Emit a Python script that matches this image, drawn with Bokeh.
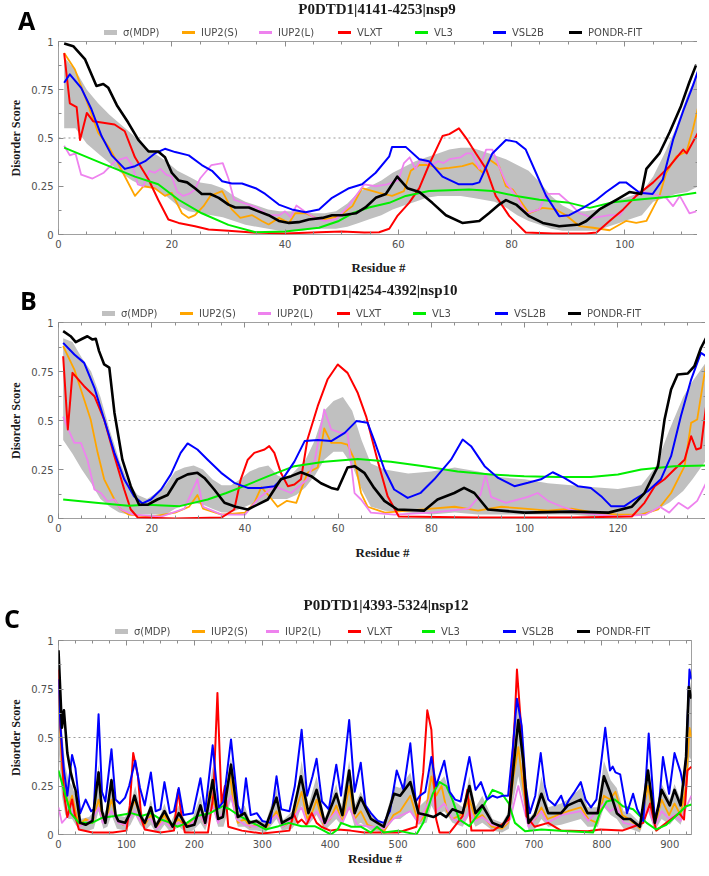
from bokeh.plotting import figure
from bokeh.layouts import column
from bokeh.models import (Range1d, LinearAxis, SingleIntervalTicker, FixedTicker, Div,
                          NumeralTickFormatter, Span, CustomLabelingPolicy)
from bokeh.embed import file_html
from bokeh.resources import INLINE

SERIES_NAMES = ["σ(MDP)", "IUP2(S)", "IUP2(L)", "VLXT", "VL3", "VSL2B", "PONDR-FIT"]
SERIES_COLORS = ["#c0c0c0", "#ffa500", "#ee82ee", "#ff0000", "#00ee00", "#0000ff", "#000000"]
Y_TICKS = [0, 0.25, 0.5, 0.75, 1]
Y_MINOR = [0.125, 0.375, 0.625, 0.875]

# ---------------- Panel A : nsp9 ----------------
A_TITLE = "P0DTD1|4141-4253|nsp9"
A_XMAX = 113
A_XSTEP = 20
A_BAND = [(1,0.55,0.92),(3,0.55,0.85),(5,0.47,0.75),(7,0.42,0.68),(9,0.37,0.62),(11,0.32,0.57),
          (13,0.28,0.52),(15,0.25,0.46),(17,0.24,0.42),(19,0.20,0.38),(21,0.15,0.33),(23,0.12,0.30),
          (25,0.11,0.27),(27,0.10,0.26),(29,0.09,0.24),(31,0.07,0.20),(33,0.05,0.17),(35,0.04,0.15),
          (37,0.03,0.13),(39,0.02,0.12),(41,0.02,0.12),(43,0.02,0.12),(45,0.03,0.11),(47,0.03,0.11),
          (49,0.03,0.12),(51,0.04,0.16),(53,0.06,0.22),(55,0.08,0.25),(57,0.10,0.28),(59,0.13,0.32),
          (61,0.15,0.35),(63,0.17,0.38),(65,0.19,0.40),(67,0.20,0.42),(69,0.20,0.44),(71,0.20,0.45),
          (73,0.19,0.45),(75,0.18,0.43),(77,0.17,0.41),(79,0.14,0.39),(81,0.10,0.36),(83,0.07,0.33),
          (85,0.05,0.27),(87,0.03,0.20),(89,0.02,0.15),(91,0.02,0.12),(93,0.02,0.12),(95,0.02,0.13),
          (97,0.04,0.15),(99,0.06,0.18),(101,0.08,0.20),(103,0.10,0.22),(105,0.17,0.30),(107,0.19,0.42),
          (109,0.21,0.55),(111,0.22,0.72),(113,0.25,0.85)]
A_IUP2S = [(1,0.94),(2.9,0.855),(5.3,0.665),(7,0.527),(8.8,0.457),(10.3,0.38),(12,0.285),(13.5,0.20),
           (15,0.25),(17,0.24),(18.8,0.20),(20,0.216),(21.8,0.11),(23,0.086),(24.1,0.10),(25.6,0.147),
           (26.8,0.20),(28.9,0.225),(30.6,0.13),(32.1,0.086),(34.2,0.10),(35.9,0.07),(37.1,0.052),
           (38.9,0.086),(40.7,0.06),(41.8,0.11),(43.6,0.11),(45.4,0.086),(47.1,0.078),(49.5,0.095),
           (51.9,0.147),(53.6,0.24),(56.6,0.216),(58.9,0.20),(61,0.225),(62.2,0.33),(63.7,0.36),
           (65.4,0.36),(67.2,0.34),(69,0.345),(71.3,0.354),(73.1,0.37),(74.9,0.32),(76,0.39),
           (77.8,0.354),(79,0.25),(80.2,0.233),(82,0.155),(83.1,0.11),(85.5,0.138),(87.8,0.13),
           (89.6,0.10),(92,0.043),(94.4,0.035),(97.3,0.022),(100.2,0.07),(102,0.06),(103.8,0.07),
           (106.1,0.20),(107.3,0.32),(109.1,0.405),(110.9,0.43),(112,0.544),(112.9,0.656)]
A_IUP2L = [(1,0.46),(2,0.41),(3,0.42),(4,0.31),(6,0.29),(8,0.32),(10,0.38),(12,0.40),(13,0.36),
           (14,0.26),(15,0.25),(16,0.33),(17,0.32),(18,0.34),(19,0.31),(20,0.30),(21,0.22),(22,0.20),
           (23,0.21),(24,0.23),(25,0.29),(27,0.36),(29,0.37),(30,0.29),(31,0.18),(33,0.16),(35,0.14),
           (37,0.10),(39,0.10),(40,0.12),(41,0.09),(42,0.15),(43,0.13),(45,0.09),(47,0.07),(49,0.08),
           (51,0.14),(53,0.22),(54,0.26),(56,0.25),(58,0.26),(60,0.28),(61,0.37),(62,0.40),(63,0.34),
           (64,0.39),(65,0.37),(66,0.36),(67,0.38),(68,0.37),(69,0.39),(71,0.40),(72,0.42),(73,0.42),
           (74.3,0.34),(75.5,0.44),(76.6,0.44),(77.8,0.35),(79,0.27),(80.8,0.20),(82.5,0.11),
           (84.9,0.13),(86.1,0.21),(88.4,0.21),(90.2,0.164),(92,0.11),(94.4,0.086),(97.3,0.10),
           (99.1,0.10),(100.2,0.147),(102.6,0.225),(104.9,0.21),(107.3,0.19),(108.5,0.147),
           (109.7,0.20),(111.4,0.11),(112.6,0.12)]
A_VLXT = [(1,0.94),(2,0.68),(3.2,0.66),(3.8,0.49),(5,0.63),(6.1,0.587),(7.6,0.58),(9.9,0.57),
          (11.7,0.535),(13.5,0.40),(15.9,0.285),(17.6,0.18),(19.4,0.078),(21.2,0.06),(24.1,0.043),
          (26.5,0.026),(30,0.02),(34.2,0.01),(40,0.005),(46,0.012),(50,0.015),(54,0.01),(56.6,0.012),
          (58.4,0.03),(59.8,0.095),(61.9,0.164),(63.7,0.24),(65.4,0.36),(67.8,0.51),(69,0.52),
          (70.7,0.55),(72.2,0.49),(73.7,0.42),(75.5,0.34),(77.2,0.20),(79.6,0.095),(82.5,0.01),
          (87.3,0.005),(93.2,0.005),(95,0.01),(97.3,0.07),(99.7,0.13),(102,0.20),(105,0.27),
          (107.9,0.354),(110.3,0.44),(110.9,0.42),(112.9,0.527)]
A_VL3 = [(1,0.45),(7.6,0.37),(13.5,0.30),(17.6,0.26),(21.2,0.18),(25.3,0.11),(30,0.05),(34.8,0.012),
         (40,0.015),(46,0.035),(49.5,0.07),(51.9,0.11),(54.8,0.14),(58.4,0.164),(61.3,0.20),
         (65.4,0.225),(72.5,0.233),(76.6,0.225),(80.8,0.20),(84.9,0.18),(90.2,0.164),(93.8,0.138),
         (97.9,0.167),(102,0.18),(107.9,0.195),(112.6,0.216)]
A_VSL2B = [(1,0.786),(2,0.83),(4,0.76),(5.8,0.65),(7.6,0.51),(9.4,0.41),(11.7,0.34),(13.5,0.354),
           (15.3,0.38),(17,0.42),(18.8,0.444),(20.6,0.427),(23,0.41),(25.3,0.36),(27.1,0.33),
           (28.9,0.276),(30.6,0.264),(32.4,0.264),(34.8,0.24),(36.5,0.21),(38.9,0.155),(41.2,0.13),
           (43.6,0.115),(46,0.13),(48.3,0.19),(51.3,0.24),(53.6,0.26),(56,0.32),(58.4,0.405),
           (58.9,0.454),(61.3,0.454),(63.7,0.39),(65.4,0.38),(67.8,0.30),(70.7,0.26),(73.1,0.26),
           (74.3,0.27),(76.6,0.42),(79,0.49),(80.8,0.48),(82.5,0.44),(84.3,0.32),(86.1,0.20),
           (88.4,0.095),(90.2,0.10),(92.6,0.138),(95,0.18),(96.7,0.22),(99.1,0.27),(100.2,0.27),
           (102.6,0.216),(104.9,0.21),(106.7,0.285),(108.5,0.49),(110.3,0.64),(112,0.77),(113,0.855)]
A_PONDR = [(1,0.99),(2.6,0.976),(4.7,0.907),(6.7,0.77),(7.9,0.78),(8.8,0.76),(10.3,0.67),(12.3,0.58),
           (14.1,0.49),(15.9,0.43),(17.6,0.43),(18.8,0.40),(20,0.32),(21.2,0.28),(22.7,0.27),
           (24.1,0.24),(25.3,0.21),(26.8,0.21),(28.3,0.19),(30,0.155),(31.2,0.14),(33.6,0.14),
           (35.3,0.12),(37.1,0.10),(38.9,0.07),(40.7,0.06),(42.4,0.064),(44.2,0.078),(46.6,0.086),
           (48.3,0.10),(50.1,0.10),(52.5,0.11),(54.2,0.14),(56,0.19),(57.8,0.21),(59.8,0.30),
           (61.6,0.24),(63.7,0.22),(66,0.164),(68.4,0.10),(71.3,0.06),(74.3,0.07),(76,0.11),
           (77.8,0.155),(79,0.178),(80.8,0.155),(83.1,0.095),(85.5,0.06),(88.4,0.043),(92,0.052),
           (93.2,0.07),(95.5,0.13),(98.5,0.18),(100.8,0.22),(102.9,0.21),(103.8,0.34),(106.1,0.42),
           (107.9,0.53),(109.9,0.665),(111.4,0.79),(112.6,0.88)]

# ---------------- Panel B : nsp10 ----------------
B_TITLE = "P0DTD1|4254-4392|nsp10"
B_XMAX = 139
B_XSTEP = 20
B_BAND = [(1,0.40,0.92),(3,0.33,0.90),(5,0.25,0.82),(7,0.18,0.75),(9,0.10,0.62),(11,0.06,0.45),
          (13,0.03,0.30),(15,0.02,0.18),(17,0.02,0.12),(19,0.02,0.10),(21,0.02,0.13),(23,0.02,0.17),
          (25,0.05,0.24),(27,0.07,0.26),(29,0.08,0.27),(31,0.07,0.25),(33,0.05,0.20),(35,0.03,0.17),
          (37,0.03,0.17),(39,0.05,0.20),(41,0.07,0.24),(43,0.08,0.26),(45,0.10,0.27),(47,0.10,0.22),
          (49,0.10,0.20),(51,0.12,0.25),(53,0.16,0.30),(55,0.22,0.40),(57,0.30,0.55),(59,0.34,0.60),
          (61,0.34,0.62),(63,0.27,0.55),(65,0.15,0.40),(67,0.06,0.28),(70,0.04,0.25),(75,0.03,0.23),
          (80,0.02,0.24),(85,0.03,0.26),(90,0.02,0.24),(95,0.02,0.21),(100,0.02,0.20),(105,0.02,0.18),
          (110,0.02,0.17),(115,0.01,0.16),(120,0.01,0.15),(125,0.02,0.17),(128,0.04,0.26),
          (131,0.08,0.45),(134,0.14,0.62),(136,0.20,0.70),(139,0.30,0.80)]
B_IUP2S = [(1,0.88),(3.4,0.76),(5.5,0.607),(6.9,0.505),(8.4,0.335),(9.8,0.20),(12,0.097),(13.4,0.046),
           (15,0.02),(20,0.01),(25,0.03),(28,0.06),(29.8,0.12),(31,0.05),(35,0.02),(40,0.03),(42,0.08),
           (43.5,0.16),(45,0.12),(47,0.06),(49,0.09),(51,0.08),(53.4,0.233),(55.6,0.26),(57,0.46),
           (58.5,0.386),(60.6,0.386),(62,0.377),(63.5,0.30),(64.9,0.13),(66.3,0.06),(70,0.03),
           (80,0.05),(85,0.06),(90,0.04),(95,0.06),(100,0.05),(105,0.04),(110,0.05),(115,0.03),
           (120,0.02),(125,0.02),(128.6,0.046),(131.4,0.13),(134.3,0.267),(135.7,0.488),(137,0.505),
           (138.9,0.786)]
B_IUP2L = [(1,0.52),(2,0.46),(3.4,0.386),(4.8,0.386),(6.2,0.30),(7.7,0.148),(9.1,0.13),(10.5,0.088),
           (12,0.097),(13.4,0.046),(16,0.02),(22,0.01),(27,0.05),(29.8,0.20),(31,0.06),(35,0.02),
           (40,0.02),(43,0.105),(46.3,0.165),(49.9,0.13),(53.4,0.20),(55,0.30),(57,0.556),(58.5,0.454),
           (60.6,0.437),(62,0.437),(63.5,0.13),(64.9,0.097),(67,0.03),(72,0.02),(80,0.03),(88,0.05),
           (90.5,0.12),(91.6,0.224),(92.8,0.11),(96,0.08),(100.7,0.11),(102.8,0.13),(105,0.09),
           (108,0.06),(112,0.03),(120,0.01),(126,0.02),(129,0.06),(131,0.03),(133,0.08),(135,0.05),
           (137,0.09),(138.9,0.18)]
B_VLXT = [(1,0.828),(2,0.454),(3,0.743),(5.5,0.675),(7.7,0.624),(9.8,0.505),(12,0.318),(14.1,0.148),
          (15.5,0.046),(17,0.005),(25,0.0),(35,0.005),(37.7,0.046),(39.1,0.20),(40.6,0.30),(42,0.335),
          (44.2,0.352),(45.2,0.369),(46.3,0.335),(47.7,0.233),(49.2,0.165),(50.6,0.173),(52,0.20),
          (53.4,0.403),(55.6,0.573),(57.7,0.709),(59.9,0.786),(62,0.743),(64.2,0.64),(66,0.52),
          (68.4,0.30),(70.6,0.114),(73,0.01),(90,0.005),(110,0.005),(123,0.01),(125.7,0.08),
          (127.9,0.165),(130,0.20),(132.1,0.25),(134.3,0.30),(135.7,0.42),(136.8,0.352),(137.8,0.36),
          (138.9,0.573)]
B_VL3 = [(1,0.097),(8,0.08),(15,0.065),(19,0.07),(26,0.063),(32,0.097),(36,0.13),(40.6,0.173),
         (45,0.216),(50.6,0.267),(57,0.29),(64.2,0.304),(71.3,0.29),(78.4,0.267),(85.6,0.24),
         (92.8,0.224),(99.9,0.216),(107,0.212),(114.2,0.212),(120,0.224),(125,0.25),(132,0.267),
         (138.9,0.27)]
B_VSL2B = [(1,0.896),(3.4,0.837),(5.5,0.794),(7.7,0.667),(9.8,0.505),(12,0.335),(14.1,0.20),
           (16.2,0.114),(18,0.077),(19.8,0.097),(22,0.148),(24.1,0.225),(26.2,0.335),(27.7,0.383),
           (29.8,0.352),(32,0.30),(34.9,0.233),(37.7,0.182),(40.6,0.156),(43.4,0.156),(46.3,0.165),
           (48.5,0.216),(50.6,0.29),(52.8,0.395),(55.6,0.40),(58.5,0.395),(61.4,0.437),(63.9,0.497),
           (66.3,0.488),(67.7,0.40),(69.9,0.25),(72,0.148),(74.9,0.105),(77.7,0.131),(80.6,0.20),
           (84.2,0.30),(86.7,0.403),(88.5,0.369),(91.4,0.267),(94.3,0.207),(97.8,0.165),(100.7,0.182),
           (103.5,0.20),(106,0.236),(108.5,0.207),(111.4,0.165),(114.2,0.156),(116.4,0.114),
           (118.5,0.063),(121.4,0.063),(123.5,0.097),(126.4,0.139),(129.2,0.20),(131.4,0.318),
           (133.5,0.522),(135.7,0.709),(137.8,0.845),(138.9,0.828)]
B_PONDR = [(1,0.956),(2.6,0.93),(3.7,0.90),(5.1,0.917),(6.2,0.93),(7.3,0.913),(8,0.917),(8.7,0.854),
           (9.8,0.786),(10.9,0.77),(12,0.54),(13.7,0.30),(15.5,0.165),(17.3,0.07),(19.1,0.07),
           (21.2,0.097),(23.4,0.12),(25.5,0.20),(27.7,0.225),(29.8,0.233),(31.3,0.207),(33.4,0.148),
           (35.6,0.08),(38,0.06),(40.6,0.046),(44.9,0.097),(47.7,0.20),(49.9,0.216),(52,0.236),
           (54.2,0.216),(56.3,0.18),(58.5,0.156),(59.9,0.148),(62,0.26),(63.5,0.267),(65.6,0.233),
           (67.7,0.156),(69.9,0.09),(72.7,0.046),(78.4,0.04),(81.3,0.097),(84.9,0.13),(87,0.156),
           (89.2,0.13),(92.1,0.046),(100,0.03),(110,0.035),(118,0.03),(123,0.06),(125.7,0.13),
           (128.6,0.267),(130,0.505),(131.4,0.658),(132.8,0.735),(135,0.74),(136.4,0.777),
           (137.8,0.87),(138.9,0.92)]

# ---------------- Panel C : nsp12 ----------------
C_TITLE = "P0DTD1|4393-5324|nsp12"
C_XMAX = 932
C_XSTEP = 100
C_BAND = [(0,0.45,0.90),(5,0.20,0.55),(10,0.10,0.35),(15,0.08,0.28),(20,0.08,0.25),(25,0.05,0.20),
          (32,0.02,0.08),(45,0.02,0.09),(52,0.03,0.12),(59,0.12,0.36),(66,0.03,0.10),(72,0.04,0.14),
          (78,0.10,0.30),(86,0.03,0.10),(98,0.02,0.09),(106,0.05,0.16),(113,0.10,0.25),(120,0.05,0.14),
          (128,0.02,0.07),(136,0.05,0.18),(143,0.01,0.06),(150,0.02,0.10),(156,0.05,0.16),
          (165,0.01,0.06),(177,0.04,0.15),(188,0.01,0.06),(198,0.02,0.09),(209,0.06,0.20),
          (216,0.02,0.09),(227,0.14,0.35),(235,0.04,0.14),(243,0.04,0.14),(254,0.18,0.40),
          (264,0.04,0.12),(274,0.04,0.15),(282,0.02,0.07),(292,0.02,0.08),(305,0.01,0.06),
          (321,0.08,0.24),(329,0.02,0.07),(344,0.03,0.12),(350,0.06,0.20),(358,0.15,0.38),
          (368,0.05,0.15),(380,0.10,0.30),(392,0.02,0.08),(409,0.08,0.26),(416,0.05,0.14),
          (428,0.14,0.38),(436,0.04,0.15),(445,0.06,0.22),(460,0.02,0.10),(479,0.01,0.06),
          (494,0.08,0.25),(503,0.08,0.24),(518,0.12,0.32),(530,0.05,0.14),(542,0.06,0.18),
          (549,0.15,0.40),(556,0.10,0.25),(568,0.12,0.30),(580,0.06,0.18),(595,0.04,0.14),
          (605,0.10,0.30),(614,0.04,0.14),(624,0.06,0.20),(639,0.02,0.08),(653,0.01,0.06),
          (663,0.03,0.12),(670,0.18,0.48),(677,0.30,0.70),(684,0.18,0.45),(692,0.02,0.08),
          (702,0.03,0.12),(711,0.08,0.30),(721,0.04,0.14),(740,0.05,0.16),(750,0.06,0.18),
          (769,0.08,0.24),(779,0.04,0.14),(794,0.04,0.14),(803,0.14,0.38),(813,0.10,0.28),
          (822,0.08,0.24),(832,0.03,0.12),(842,0.03,0.11),(856,0.01,0.06),(868,0.12,0.35),
          (878,0.02,0.07),(888,0.08,0.26),(900,0.05,0.18),(907,0.08,0.26),(916,0.05,0.18),
          (924,0.15,0.40),(929,0.40,0.80),(932,0.38,0.75)]
C_IUP2S = [(0,0.72),(5,0.35),(10,0.22),(15,0.15),(20,0.20),(25,0.12),(30,0.05),(40,0.08),(50,0.06),
           (59,0.18),(65,0.08),(72,0.10),(78,0.18),(85,0.08),(95,0.05),(105,0.10),(112,0.18),(120,0.10),
           (127,0.05),(136,0.10),(145,0.04),(156,0.10),(165,0.04),(177,0.08),(186,0.04),(195,0.06),
           (209,0.10),(216,0.05),(222,0.22),(227,0.18),(235,0.08),(242,0.10),(252,0.32),(258,0.15),
           (264,0.06),(274,0.08),(282,0.04),(292,0.05),(305,0.03),(321,0.12),(330,0.04),(344,0.07),
           (358,0.22),(366,0.08),(374,0.12),(380,0.18),(390,0.05),(400,0.08),(409,0.15),(418,0.06),
           (428,0.25),(436,0.08),(445,0.12),(455,0.05),(470,0.03),(480,0.02),(493,0.10),(503,0.12),
           (518,0.20),(530,0.06),(540,0.10),(549,0.30),(556,0.20),(564,0.25),(572,0.12),(580,0.08),
           (592,0.10),(605,0.18),(614,0.08),(624,0.10),(638,0.04),(653,0.03),(662,0.06),(670,0.30),
           (677,0.45),(684,0.25),(692,0.05),(702,0.08),(711,0.14),(720,0.08),(735,0.10),(750,0.12),
           (769,0.14),(780,0.08),(793,0.06),(803,0.20),(812,0.18),(820,0.22),(830,0.10),(840,0.08),
           (856,0.03),(868,0.25),(878,0.04),(888,0.18),(899,0.10),(907,0.16),(916,0.10),(924,0.25),
           (929,0.55),(932,0.50)]
C_IUP2L = [(0,0.14),(5,0.06),(10,0.08),(20,0.12),(30,0.04),(40,0.06),(50,0.08),(59,0.14),(65,0.06),
           (78,0.12),(88,0.06),(98,0.05),(112,0.12),(120,0.07),(136,0.08),(145,0.03),(156,0.07),
           (165,0.04),(177,0.06),(190,0.04),(209,0.10),(216,0.05),(227,0.15),(235,0.06),(254,0.20),
           (262,0.08),(274,0.05),(290,0.04),(305,0.05),(321,0.10),(330,0.04),(344,0.08),(358,0.14),
           (366,0.06),(380,0.12),(392,0.05),(409,0.12),(418,0.06),(428,0.14),(440,0.05),(460,0.04),
           (479,0.03),(493,0.08),(505,0.10),(518,0.12),(530,0.06),(549,0.20),(556,0.12),(568,0.16),
           (580,0.08),(595,0.06),(605,0.12),(614,0.07),(624,0.09),(638,0.05),(653,0.04),(665,0.08),
           (677,0.25),(684,0.15),(692,0.04),(711,0.12),(720,0.06),(740,0.10),(769,0.12),(780,0.07),
           (803,0.16),(812,0.12),(822,0.14),(832,0.06),(856,0.04),(868,0.14),(878,0.04),(888,0.12),
           (899,0.08),(907,0.10),(916,0.07),(924,0.14),(932,0.20)]
C_VLXT = [(0,0.85),(3,0.56),(8,0.21),(13,0.09),(20,0.18),(24,0.10),(30,0.026),(50,0.01),(80,0.01),
          (100,0.02),(105,0.15),(110,0.42),(117,0.30),(122,0.08),(127,0.026),(150,0.01),(170,0.02),
          (176,0.23),(181,0.10),(186,0.01),(220,0.01),(228,0.20),(234,0.73),(240,0.16),(245,0.25),
          (250,0.04),(270,0.02),(300,0.005),(340,0.02),(346,0.11),(352,0.06),(358,0.077),(365,0.05),
          (373,0.11),(380,0.06),(387,0.04),(400,0.02),(411,0.026),(430,0.02),(450,0.01),(500,0.01),
          (527,0.04),(537,0.32),(543,0.64),(549,0.54),(556,0.08),(561,0.01),(576,0.01),(595,0.095),
          (602,0.23),(608,0.02),(640,0.02),(663,0.077),(672,0.61),(675,0.85),(680,0.61),(689,0.095),
          (701,0.04),(721,0.06),(740,0.02),(779,0.017),(798,0.026),(830,0.02),(846,0.04),(861,0.06),
          (871,0.16),(880,0.02),(895,0.06),(914,0.11),(921,0.077),(926,0.33),(932,0.35)]
C_VL3 = [(0,0.33),(8,0.23),(18,0.11),(30,0.06),(49,0.06),(64,0.086),(83,0.095),(107,0.11),(122,0.095),
         (136,0.11),(151,0.077),(165,0.06),(175,0.04),(189,0.06),(204,0.095),(223,0.11),(242,0.146),
         (252,0.13),(267,0.095),(286,0.06),(305,0.026),(324,0.043),(339,0.06),(358,0.043),(377,0.043),
         (387,0.026),(401,0.0),(411,0.026),(416,0.06),(431,0.04),(445,0.04),(460,0.01),(469,0.04),
         (479,0.01),(500,0.02),(527,0.0),(537,0.06),(551,0.21),(561,0.27),(571,0.25),(580,0.18),
         (590,0.077),(605,0.043),(619,0.11),(639,0.23),(653,0.21),(663,0.16),(672,0.06),(687,0.017),
         (711,0.026),(750,0.017),(787,0.01),(797,0.11),(807,0.17),(819,0.18),(831,0.146),(846,0.13),
         (866,0.06),(880,0.026),(895,0.05),(909,0.095),(924,0.146),(932,0.155)]
C_VSL2B = [(0,0.80),(3,0.55),(8,0.33),(13,0.20),(20,0.41),(25,0.34),(32,0.11),(40,0.18),(48,0.12),
           (52,0.13),(59,0.62),(64,0.22),(69,0.17),(78,0.44),(84,0.18),(90,0.16),(98,0.19),(104,0.25),
           (113,0.38),(120,0.24),(127,0.15),(136,0.32),(143,0.12),(150,0.13),(156,0.27),(164,0.11),
           (170,0.12),(177,0.24),(184,0.10),(198,0.11),(209,0.29),(216,0.12),(227,0.46),(236,0.14),
           (243,0.17),(254,0.49),(264,0.15),(270,0.10),(276,0.29),(283,0.10),(292,0.11),(300,0.07),
           (312,0.06),(321,0.30),(328,0.13),(340,0.12),(348,0.25),(358,0.54),(366,0.20),(374,0.30),
           (380,0.39),(388,0.17),(398,0.13),(409,0.36),(416,0.20),(428,0.59),(436,0.22),(445,0.37),
           (452,0.15),(460,0.11),(470,0.07),(479,0.06),(488,0.12),(498,0.33),(508,0.23),(518,0.47),
           (526,0.17),(532,0.20),(540,0.22),(549,0.40),(556,0.25),(568,0.38),(576,0.22),(584,0.18),
           (592,0.17),(605,0.40),(614,0.23),(622,0.27),(631,0.18),(639,0.20),(646,0.19),(654,0.20),
           (662,0.20),(669,0.45),(675,0.70),(682,0.56),(688,0.25),(694,0.11),(702,0.20),(710,0.42),
           (716,0.25),(721,0.18),(731,0.15),(740,0.20),(746,0.14),(752,0.18),(760,0.22),(769,0.27),
           (776,0.18),(784,0.14),(792,0.18),(800,0.40),(805,0.55),(812,0.33),(816,0.35),(820,0.32),
           (827,0.31),(837,0.11),(846,0.21),(852,0.13),(861,0.07),(869,0.52),(878,0.08),(884,0.15),
           (890,0.40),(899,0.21),(907,0.42),(916,0.32),(920,0.25),(924,0.39),(929,0.85),(932,0.80)]
C_PONDR = [(0,0.95),(2.5,0.75),(5,0.55),(8,0.64),(13,0.42),(18,0.32),(23,0.25),(25,0.23),(32,0.06),
           (40,0.05),(50,0.07),(59,0.32),(64,0.12),(69,0.06),(78,0.28),(84,0.10),(88,0.07),(98,0.06),
           (104,0.10),(112,0.20),(120,0.10),(127,0.06),(136,0.14),(143,0.04),(156,0.12),(168,0.04),
           (177,0.11),(189,0.04),(200,0.05),(209,0.15),(216,0.06),(227,0.28),(235,0.08),(242,0.09),
           (254,0.36),(264,0.09),(274,0.11),(281,0.06),(291,0.07),(305,0.04),(321,0.19),(329,0.06),
           (344,0.09),(357,0.30),(368,0.11),(380,0.23),(392,0.06),(409,0.21),(418,0.10),(428,0.33),
           (436,0.11),(445,0.19),(460,0.08),(479,0.04),(494,0.21),(503,0.20),(518,0.27),(530,0.11),
           (542,0.10),(552,0.09),(562,0.11),(571,0.09),(580,0.13),(595,0.11),(605,0.25),(614,0.11),
           (624,0.15),(639,0.06),(653,0.04),(663,0.10),(670,0.35),(677,0.59),(684,0.39),(692,0.06),
           (701,0.10),(711,0.21),(721,0.11),(740,0.11),(750,0.15),(769,0.18),(779,0.11),(794,0.11),
           (803,0.30),(813,0.21),(822,0.11),(832,0.08),(842,0.08),(856,0.04),(868,0.33),(878,0.06),
           (888,0.23),(900,0.15),(907,0.23),(916,0.15),(924,0.40),(928,0.76),(932,0.70)]

LINE_WIDTHS = [1.8, 1.8, 2, 2, 2, 2.6]
TICK_FONT = "DejaVu Sans"
SERIF = "Liberation Serif"
NO_LABELS = "for (let i = 0; i < indices.size; i++) { indices.unset(i) } return indices"


def style_axis(ax, hidden=False):
    ax.axis_line_color = None
    ax.major_tick_in = 5
    ax.major_tick_out = 0
    ax.minor_tick_in = 3
    ax.minor_tick_out = 0
    ax.major_tick_line_color = "#8c8c8c"
    ax.minor_tick_line_color = "#8c8c8c"
    ax.major_label_text_font = TICK_FONT
    ax.major_label_text_color = "#505050"
    if hidden:
        ax.major_label_text_font_size = "1px"
        ax.major_label_standoff = 0
        ax.major_label_policy = CustomLabelingPolicy(code=NO_LABELS)
    else:
        ax.major_label_text_font_size = "10px"
        ax.major_label_standoff = 5


def build(xmax, xstep, band, lines, g):
    p = figure(frame_width=g["fw"], frame_height=g["fh"],
               min_border_left=g["ml"], min_border_right=g["mr"],
               min_border_top=g["mt"], min_border_bottom=g["mb"],
               x_range=Range1d(0, xmax), y_range=Range1d(0, 1),
               output_backend="svg", toolbar_location=None)
    p.xgrid.visible = False
    p.ygrid.visible = False
    p.outline_line_color = "#a0a0a0"
    p.outline_line_width = 1

    p.add_layout(Span(location=0.5, dimension="width", line_color="#9a9a9a",
                      line_dash="2 3", line_width=1, level="underlay"))

    bx, blo, bhi = zip(*band)
    p.varea(x=list(bx), y1=list(blo), y2=list(bhi), fill_color=SERIES_COLORS[0], fill_alpha=1.0)
    for data, color, lw in zip(lines, SERIES_COLORS[1:], LINE_WIDTHS):
        xs, ys = zip(*data)
        p.line(list(xs), list(ys), line_color=color, line_width=lw, line_join="round")

    p.xaxis.ticker = SingleIntervalTicker(interval=xstep, num_minor_ticks=4)
    p.yaxis.ticker = FixedTicker(ticks=Y_TICKS, minor_ticks=Y_MINOR)
    p.yaxis.formatter = NumeralTickFormatter(format="0.[00]")
    style_axis(p.xaxis[0])
    style_axis(p.yaxis[0])
    p.xaxis.axis_label = "Residue #"
    p.yaxis.axis_label = "Disorder Score"
    for ax in (p.xaxis[0], p.yaxis[0]):
        ax.axis_label_text_font = SERIF
        ax.axis_label_text_font_style = "bold"
        ax.axis_label_text_color = "#1a1a1a"
    p.xaxis.axis_label_text_font_size = "13px"
    p.yaxis.axis_label_text_font_size = "12px"
    p.xaxis.axis_label_standoff = g["xls"]
    p.yaxis.axis_label_standoff = 5

    # mirrored inward ticks on the top and right edges (no labels)
    top = LinearAxis(ticker=SingleIntervalTicker(interval=xstep, num_minor_ticks=4))
    style_axis(top, hidden=True)
    p.add_layout(top, "above")
    right = LinearAxis(ticker=FixedTicker(ticks=Y_TICKS, minor_ticks=Y_MINOR))
    style_axis(right, hidden=True)
    p.add_layout(right, "right")
    return p


FIXED = {"position": "fixed", "z-index": "50", "margin": "0", "padding": "0",
         "white-space": "nowrap"}


def letter_div(letter, left, top):
    st = dict(FIXED, left=f"{left}px", top=f"{top}px", color="#000000")
    st.update({"font-family": "'Open Sans'", "font-weight": "bold",
               "font-size": "25px", "line-height": "1"})
    return Div(text=letter, width=30, height=30, styles=st)


def title_div(text, cx, top):
    st = dict(FIXED, left=f"{cx - 160}px", top=f"{top}px", color="#1a1a1a")
    st.update({"font-family": "'Liberation Serif'", "font-weight": "bold",
               "font-size": "15px", "line-height": "1", "text-align": "center"})
    return Div(text=text, width=320, height=18, styles=st)


def legend_div(xs, top):
    parts = []
    for name, color, x in zip(SERIES_NAMES, SERIES_COLORS, xs):
        if name == SERIES_NAMES[0]:
            sw = (f'<span style="position:absolute;left:{x}px;top:5px;width:13px;height:5px;'
                  f'background:{color};"></span>')
        else:
            sw = (f'<span style="position:absolute;left:{x}px;top:6px;width:13px;height:3px;'
                  f'background:{color};"></span>')
        lab = (f'<span style="position:absolute;left:{x + 19}px;top:0px;line-height:15px;'
               f"font-family:'DejaVu Sans';font-size:10px;color:#4a4a4a;\">{name}</span>")
        parts.append(sw + lab)
    html = '<div style="position:relative;width:709px;height:15px;">' + "".join(parts) + "</div>"
    st = dict(FIXED, left="0px", top=f"{top}px")
    return Div(text=html, width=709, height=15, styles=st)


GEOM_A = dict(fw=640, fh=193, ml=49, mr=4, mt=41, mb=44, xls=9)
GEOM_B = dict(fw=648, fh=196, ml=43, mr=2, mt=44, mb=53, xls=10)
GEOM_C = dict(fw=633, fh=194, ml=58, mr=2, mt=69, mb=33, xls=0)

LEGEND_X_A = [104, 182, 259, 338, 415, 493, 569]
LEGEND_X_B = [102, 180, 258, 337, 413, 495, 568]
LEGEND_X_C = [115, 192, 266, 348, 422, 503, 577]

pA = build(A_XMAX, A_XSTEP, A_BAND, [A_IUP2S, A_IUP2L, A_VLXT, A_VL3, A_VSL2B, A_PONDR], GEOM_A)
pB = build(B_XMAX, B_XSTEP, B_BAND, [B_IUP2S, B_IUP2L, B_VLXT, B_VL3, B_VSL2B, B_PONDR], GEOM_B)
pC = build(C_XMAX, C_XSTEP, C_BAND, [C_IUP2S, C_IUP2L, C_VLXT, C_VL3, C_VSL2B, C_PONDR], GEOM_C)

overlays = [
    title_div(A_TITLE, 377, 2), legend_div(LEGEND_X_A, 25), letter_div("A", 18, 8),
    title_div(B_TITLE, 375, 283), legend_div(LEGEND_X_B, 306), letter_div("B", 20, 288),
    title_div(C_TITLE, 386, 598), legend_div(LEGEND_X_C, 624), letter_div("C", 4, 606),
]

p = column(pA, pB, pC, *overlays, spacing=0)
open("out.html", "w").write(file_html(p, INLINE))
